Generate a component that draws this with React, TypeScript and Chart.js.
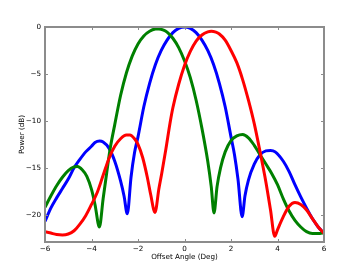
import React, { useEffect, useRef } from 'react';
import { Chart, registerables } from 'chart.js';
Chart.register(...registerables);

const blueX = [-6,-5.75,-5.5,-5.25,-5,-4.75,-4.5,-4.25,-4,-3.85,-3.65,-3.5,-3.25,-3,-2.75,-2.6,-2.46,-2.3,-2.15,-2,-1.75,-1.5,-1.25,-1,-0.75,-0.5,-0.25,0,0.25,0.5,0.75,1,1.25,1.5,1.75,2,2.15,2.3,2.48,2.6,2.75,3,3.25,3.5,3.7,3.9,4.25,4.5,4.75,5,5.25,5.5,5.75,6];
const blueY = [-20.7,-19.3,-18.2,-17.2,-16.2,-15.0,-14.1,-13.3,-12.7,-12.3,-12.15,-12.25,-12.9,-14.3,-16.4,-18.0,-19.9,-16.0,-13.4,-11.7,-8.5,-6.0,-4.0,-2.5,-1.4,-0.6,-0.15,0,-0.15,-0.6,-1.4,-2.5,-4.0,-6.0,-8.5,-11.7,-13.6,-16.2,-20.2,-18.0,-16.3,-14.6,-13.6,-13.2,-13.15,-13.3,-14.3,-15.4,-16.8,-18.1,-19.3,-20.4,-21.3,-21.96];

const greenX = [-6,-5.75,-5.5,-5.25,-5,-4.75,-4.6,-4.4,-4.2,-4,-3.85,-3.66,-3.5,-3.35,-3.2,-3,-2.75,-2.5,-2.25,-2,-1.75,-1.5,-1.25,-1.1,-0.9,-0.75,-0.5,-0.25,0,0.25,0.5,0.75,1,1.15,1.27,1.4,1.55,1.75,2,2.25,2.5,2.75,3,3.25,3.5,3.75,4,4.25,4.5,4.75,5,5.25,5.5,5.75,6];
const greenY = [-19.2,-18.0,-16.9,-16.0,-15.3,-14.9,-14.85,-15.2,-15.9,-17.3,-18.9,-21.3,-18.3,-15.6,-13.0,-10.4,-7.3,-4.9,-3.1,-1.8,-0.95,-0.45,-0.22,-0.2,-0.33,-0.55,-1.2,-2.2,-3.6,-5.4,-7.8,-10.8,-14.3,-17.0,-19.8,-17.0,-15.0,-13.3,-12.1,-11.6,-11.45,-11.8,-12.6,-13.6,-14.6,-15.6,-16.8,-18.3,-19.6,-20.6,-21.3,-21.8,-22.0,-22.0,-21.9];

const redX = [-6,-5.75,-5.5,-5.25,-5,-4.75,-4.5,-4.25,-4,-3.75,-3.5,-3.25,-3,-2.75,-2.5,-2.35,-2.15,-2,-1.8,-1.6,-1.45,-1.27,-1.1,-0.98,-0.8,-0.62,-0.5,-0.25,0,0.25,0.5,0.75,1,1.15,1.35,1.5,1.75,2,2.25,2.5,2.75,3,3.25,3.5,3.7,3.88,4,4.25,4.5,4.75,5,5.25,5.5,5.75,6];
const redY = [-21.8,-21.95,-22.1,-22.15,-22.05,-21.7,-21.0,-20.1,-18.9,-17.6,-15.8,-14.0,-12.7,-11.9,-11.5,-11.5,-11.9,-12.5,-13.9,-16.0,-17.9,-19.75,-17.2,-15.6,-13.0,-10.2,-8.6,-6.1,-4.1,-2.6,-1.5,-0.85,-0.52,-0.45,-0.55,-0.75,-1.4,-2.5,-3.8,-5.6,-7.8,-10.3,-13.3,-16.5,-19.5,-22.3,-21.6,-20.2,-19.1,-18.7,-18.9,-19.5,-20.4,-21.3,-21.96];

const xTicks = [-6, -4, -2, 0, 2, 4, 6];
const yTicks = [0, -5, -10, -15, -20];
const xTitle = 'Offset Angle (Deg)';
const yTitle = 'Power (dB)';

const FONT = 'DejaVu Sans';
const fmt = (v: number) => (v < 0 ? '\u2212' + Math.abs(v) : String(v));

const framePlugin = {
  id: 'mplFrame',
  afterDatasetsDraw(chart: any) {
    const { ctx, chartArea: a, scales } = chart;
    ctx.save();
    ctx.strokeStyle = '#8c8c8c';
    ctx.lineWidth = 1;
    const tl = 3;
    ctx.beginPath();
    xTicks.forEach((v) => {
      const p = Math.round(scales.x.getPixelForValue(v)) + 0.5;
      ctx.moveTo(p, a.bottom); ctx.lineTo(p, a.bottom - tl);
      ctx.moveTo(p, a.top); ctx.lineTo(p, a.top + tl);
    });
    yTicks.forEach((v) => {
      const p = Math.round(scales.y.getPixelForValue(v)) + 0.5;
      ctx.moveTo(a.left, p); ctx.lineTo(a.left + tl, p);
      ctx.moveTo(a.right, p); ctx.lineTo(a.right - tl, p);
    });
    ctx.stroke();
    ctx.lineWidth = 2;
    ctx.strokeRect(a.left, a.top, a.right - a.left, a.bottom - a.top);
    ctx.restore();
  },
};

const mk = (xs: number[], ys: number[], color: string, order: number) => ({
  data: xs.map((x, i) => ({ x, y: ys[i] })),
  borderColor: color,
  backgroundColor: color,
  borderWidth: 3,
  pointRadius: 0,
  fill: false,
  cubicInterpolationMode: 'monotone' as const,
  clip: 0,
  order,
});

export default function App() {
  const ref = useRef<HTMLCanvasElement>(null);
  useEffect(() => {
    if (!ref.current) return;
    const chart = new Chart(ref.current, {
      type: 'line',
      data: {
        datasets: [
          mk(blueX, blueY, '#0000ff', 3),
          mk(greenX, greenY, '#008000', 2),
          mk(redX, redY, '#ff0000', 1),
        ],
      },
      options: {
        animation: false,
        responsive: false,
        devicePixelRatio: 1,
        layout: { padding: { top: 27, right: 36, left: 0, bottom: 0 } },
        plugins: { legend: { display: false }, tooltip: { enabled: false } },
        scales: {
          x: {
            type: 'linear',
            min: -6,
            max: 6,
            grid: { display: false, drawTicks: false },
            border: { display: false },
            afterBuildTicks: (s: any) => { s.ticks = xTicks.map((v) => ({ value: v })); },
            afterFit: (s: any) => { s.height = 28; },
            ticks: {
              callback: (v: any) => fmt(Number(v)),
              color: '#000',
              font: { family: FONT, size: 7.2 },
              padding: 3,
              maxRotation: 0,
            },
            title: {
              display: true,
              text: xTitle,
              color: '#000',
              font: { family: FONT, size: 7.2 },
              padding: { top: 0, bottom: 8.5 },
            },
          },
          y: {
            type: 'linear',
            min: -22.9,
            max: 0,
            grid: { display: false, drawTicks: false },
            border: { display: false },
            afterBuildTicks: (s: any) => { s.ticks = yTicks.map((v) => ({ value: v })); },
            afterFit: (s: any) => { s.width = 45; },
            ticks: {
              callback: (v: any) => fmt(Number(v)),
              color: '#000',
              font: { family: FONT, size: 7.2 },
              padding: 4,
            },
            title: {
              display: true,
              text: yTitle,
              color: '#000',
              font: { family: FONT, size: 7.2 },
              padding: { top: 18, bottom: 0 },
            },
          },
        },
      },
      plugins: [framePlugin],
    });
    return () => chart.destroy();
  }, []);
  return (
    <div style={{ position: 'fixed', left: 0, top: 0, width: 360, height: 270, background: '#fff' }}>
      <canvas ref={ref} width={360} height={270} style={{ width: 360, height: 270, display: 'block' }} />
    </div>
  );
}
